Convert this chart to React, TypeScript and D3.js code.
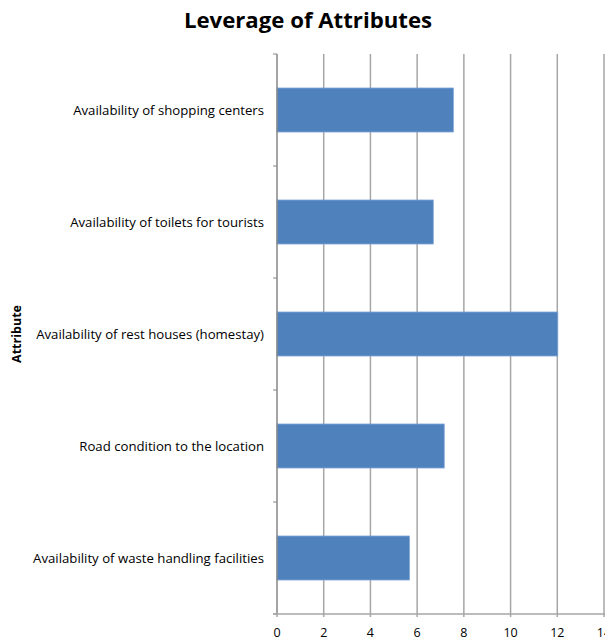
import React from "react";
import * as d3 from "d3";

const attributes = [
  "Availability of shopping centers",
  "Availability of toilets for tourists",
  "Availability of rest houses (homestay)",
  "Road condition to the location",
  "Availability of waste handling facilities",
];
const leverage = [7.55, 6.69, 12.02, 7.16, 5.67];
const xTicks = [0, 2, 4, 6, 8, 10, 12, 14];

const W = 605;
const H = 641;
const left = 277;
const right = 604;
const top = 54;
const bottom = 614;

export default function App() {
  const x = d3.scaleLinear().domain([0, 14]).range([left, right]);
  const y = d3
    .scaleBand<string>()
    .domain(attributes)
    .range([top, bottom])
    .paddingInner(0.607)
    .paddingOuter(0.3035);
  const step = (bottom - top) / attributes.length;
  const bounds = d3.range(attributes.length + 1).map((i) => top + i * step);
  const font = "'Open Sans', 'Noto Sans', sans-serif";

  return (
    <svg
      width={W}
      height={H}
      style={{ position: "absolute", left: 0, top: 0, background: "#fff" }}
      fontFamily={font}
    >
      <text x={308} y={28} textAnchor="middle" fontSize={22.2} fontWeight="bold" fill="#000">
        Leverage of Attributes
      </text>
      {xTicks.slice(1).map((t) => (
        <line key={t} x1={x(t)} x2={x(t)} y1={top} y2={bottom + 3} stroke="#a6a6a6" strokeWidth={1.5} />
      ))}
      {attributes.map((a, i) => (
        <rect
          key={a}
          x={x(0)}
          y={y(a)!}
          width={x(leverage[i]) - x(0)}
          height={y.bandwidth()}
          fill="#4f81bd"
          stroke="#7fa6d6"
          strokeWidth={0.8}
        />
      ))}
      <line x1={left} x2={left} y1={top} y2={bottom} stroke="#868686" strokeWidth={1.5} />
      {bounds.map((b, i) => (
        <line key={i} x1={left - 4} x2={left} y1={b} y2={b} stroke="#868686" strokeWidth={1} />
      ))}
      <line x1={left - 4} x2={W} y1={bottom} y2={bottom} stroke="#a6a6a6" strokeWidth={1.5} />
      <line x1={left} x2={left} y1={bottom} y2={bottom + 3} stroke="#a6a6a6" strokeWidth={1.5} />
      {xTicks.map((t) => (
        <text key={t} x={x(t)} y={637} textAnchor="middle" fontSize={12.5} fill="#000">
          {t}
        </text>
      ))}
      {attributes.map((a) => (
        <text
          key={a}
          x={264}
          y={y(a)! + y.bandwidth() / 2}
          dy="0.35em"
          textAnchor="end"
          fontSize={13.2}
          fill="#000"
        >
          {a}
        </text>
      ))}
      <text
        transform={`translate(21,334) rotate(-90)`}
        textAnchor="middle"
        fontSize={12.5}
        fontWeight="bold"
        fill="#000"
      >
        Attribute
      </text>
    </svg>
  );
}
